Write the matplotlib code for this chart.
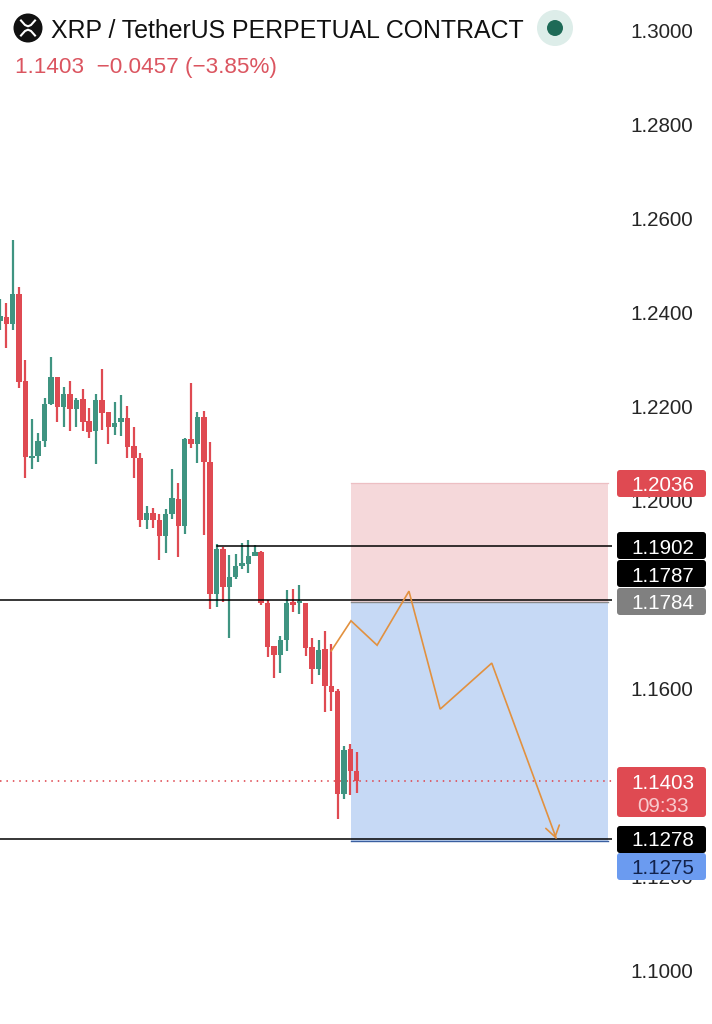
import matplotlib
matplotlib.use("Agg")
import matplotlib.pyplot as plt
from matplotlib.patches import FancyBboxPatch, Rectangle, Circle
from matplotlib.lines import Line2D
from matplotlib.transforms import IdentityTransform
import numpy as np

plt.rcParams['font.family'] = ['Liberation Sans', 'DejaVu Sans']

# OHLC candles (body top / body bottom kept through open & close)
opens = [1.2381,1.2389,1.2374,1.2438,1.2253,1.2089,1.2094,1.2125,1.2204,1.2262,
         1.2198,1.2225,1.2194,1.2215,1.2168,1.2147,1.2213,1.2187,1.2155,1.2166,
         1.2174,1.2115,1.2089,1.1957,1.1972,1.1957,1.1923,1.1970,1.2002,1.1945,
         1.2130,1.2119,1.2177,1.2081,1.1800,1.1896,1.1815,1.1836,1.1860,1.1864,
         1.1881,1.1889,1.1781,1.1689,1.1670,1.1702,1.1783,1.1781,1.1781,1.1687,
         1.1640,1.1683,1.1604,1.1594,1.1374,1.1470,1.1423]
closes = [1.2391,1.2374,1.2438,1.2251,1.2091,1.2094,1.2125,1.2204,1.2262,1.2198,
          1.2225,1.2194,1.2213,1.2166,1.2145,1.2213,1.2185,1.2155,1.2164,1.2174,
          1.2113,1.2089,1.1957,1.1972,1.1957,1.1923,1.1970,1.2004,1.1945,1.2130,
          1.2119,1.2177,1.2081,1.1800,1.1896,1.1815,1.1836,1.1860,1.1866,1.1881,
          1.1889,1.1781,1.1687,1.1670,1.1702,1.1781,1.1777,1.1783,1.1685,1.1640,
          1.1681,1.1604,1.1592,1.1374,1.1468,1.1423,1.1402]
highs = [1.2428,1.2419,1.2553,1.2453,1.2298,1.2172,1.2142,1.2217,1.2304,1.2262,
         1.2240,1.2253,1.2217,1.2236,1.2196,1.2225,1.2279,1.2187,1.2208,1.2223,
         1.2200,1.2155,1.2100,1.1987,1.1983,1.1970,1.1981,1.2066,1.2036,1.2132,
         1.2249,1.2187,1.2189,1.2123,1.1906,1.1900,1.1883,1.1885,1.1908,1.1915,
         1.1904,1.1891,1.1787,1.1689,1.1711,1.1809,1.1811,1.1819,1.1781,1.1706,
         1.1702,1.1721,1.1694,1.1598,1.1477,1.1481,1.1464]
lows = [1.2362,1.2323,1.2362,1.2238,1.2047,1.2066,1.2081,1.2113,1.2202,1.2166,
        1.2155,1.2147,1.2155,1.2147,1.2132,1.2077,1.2149,1.2119,1.2138,1.2136,
        1.2089,1.2047,1.1943,1.1938,1.1940,1.1872,1.1887,1.1960,1.1879,1.1928,
        1.2111,1.2079,1.1926,1.1768,1.1772,1.1783,1.1706,1.1832,1.1853,1.1845,
        1.1881,1.1777,1.1666,1.1621,1.1632,1.1679,1.1762,1.1757,1.1668,1.1609,
        1.1628,1.1549,1.1551,1.1321,1.1364,1.1372,1.1377]

# Axis labels
tick_values = [1.3000,1.2800,1.2600,1.2400,1.2200,1.2000,1.1800,1.1600,1.1400,1.1200,1.1000]

# Drawing levels and forecast path
line_upper = 1.1902
line_mid = 1.1787
line_lower = 1.1278
last_price = 1.1403
box_top = 1.2036
box_entry = 1.1784
box_bottom = 1.1275
path_idx = [52.0,55.1,59.2,64.2,69.1,77.2,87.3]
path_price = [1.1679,1.1743,1.1691,1.1806,1.1555,1.1653,1.1281]

RED = '#DF4A52'; GREEN = '#3F9481'
PX_PER_BAR = 6.37; PX_PER_UNIT = 4700.0
def y2p(y): return 1.3 - (y - 30) / PX_PER_UNIT
def x2i(x): return x / PX_PER_BAR

fig = plt.figure(figsize=(7.12, 10.24), dpi=100, facecolor='white')
ax = fig.add_axes([0, 0, 612/712, 1])
ax.set_xlim(0, x2i(612)); ax.set_ylim(y2p(1024), y2p(0))
for s in ax.spines.values(): s.set_visible(False)
ax.set_xticks([])
ax.yaxis.tick_right()
ax.set_yticks(tick_values)
ax.set_yticklabels([f'{v:.4f}' for v in tick_values], fontsize=14.9, color='#262626')
ax.tick_params(axis='y', length=0, pad=13.2)

# position tool
ax.add_patch(Rectangle((x2i(351), box_entry), x2i(608-351), box_top-box_entry, fc='#F5D8DA', ec='none', zorder=1))
ax.add_patch(Rectangle((x2i(351), box_bottom), x2i(608-351), box_entry-box_bottom, fc='#C6D9F5', ec='none', zorder=1))
ax.plot([x2i(351), x2i(608)], [box_top, box_top], color='#EDBFC3', lw=0.9, zorder=1.2)
ax.plot([x2i(351), x2i(608)], [box_entry, box_entry], color='#8A8A8A', lw=1.0, zorder=1.2)
ax.plot([x2i(351), x2i(608)], [box_bottom, box_bottom], color='#3A5FA0', lw=1.0, zorder=1.2)

# horizontal lines
ax.plot([x2i(217), x2i(612)], [line_upper]*2, color='black', lw=1.1, zorder=4)
ax.axhline(line_mid, color='black', lw=1.1, zorder=4)
ax.axhline(line_lower, color='black', lw=1.1, zorder=4)
ax.axhline(last_price, color=RED, lw=1.2, ls=(0, (0.9, 2.95)), zorder=1.5)

# candles
x = np.arange(len(opens))
o, c, h, l = map(np.array, (opens, closes, highs, lows))
cols = [GREEN if a > b else RED for a, b in zip(c, o)]
ax.vlines(x, l, h, colors=cols, lw=1.6, zorder=3)
ax.bar(x, np.maximum(np.abs(c-o), 0.0005), bottom=np.minimum(o, c), width=0.86, color=cols, zorder=3.2, linewidth=0)

# forecast
ax.plot(path_idx, path_price, color='#E2913F', lw=1.2, zorder=5, solid_joinstyle='miter')
ax.annotate('', xy=(path_idx[-1], y2p(841)), xytext=(path_idx[-1]-0.35, y2p(832)),
            arrowprops=dict(arrowstyle='->,head_length=0.75,head_width=0.5', color='#E2913F', lw=1.2), zorder=5)

# price tags
def tag(y_top, y_bot, fc):
    ax.add_patch(FancyBboxPatch((x2i(617), y2p(y_bot)), x2i(89), y2p(y_top)-y2p(y_bot),
        boxstyle=f'round,pad=0,rounding_size={x2i(3)}', mutation_aspect=PX_PER_BAR/PX_PER_UNIT,
        fc=fc, ec='none', clip_on=False, zorder=6))
def tag_text(y, s, col='white'):
    ax.text(x2i(663), y2p(y), s, color=col, fontsize=14.9, ha='center', va='center_baseline', clip_on=False, zorder=7)

tag(470, 497, RED);        tag_text(483, '1.2036')
tag(532, 559, 'black');    tag_text(546, '1.1902')
tag(560, 587, 'black');    tag_text(574, '1.1787')
tag(588, 615, '#808080');  tag_text(601, '1.1784')
tag(767, 817, RED);        tag_text(781, '1.1403'); tag_text(804, '09:33', '#F8C9CC')
tag(826, 853, 'black');    tag_text(839, '1.1278')
tag(853, 880, '#6B9BF0');  tag_text(867, '1.1275', '#12234D')

# header
def fx(px): return px / 712
def fy(py): return 1 - py / 1024
fig.text(fx(51), fy(28), 'XRP / TetherUS PERPETUAL CONTRACT', fontsize=17.9, color='#111111', va='center_baseline', ha='left')
fig.text(fx(15), fy(65), '1.1403  \u22120.0457 (\u22123.85%)', fontsize=16.2, color='#DB5560', va='center_baseline', ha='left')

def circle(cx, cy, r, col):
    fig.add_artist(Circle((cx, 1024-cy), r, transform=IdentityTransform(), fc=col, ec='none'))
circle(28, 28, 14.5, '#111111')
for pts in ([(21,20.5),(25,25),(28,26.3),(31,25),(35,20.5)], [(21,35.5),(25,31),(28,29.7),(31,31),(35,35.5)]):
    fig.add_artist(Line2D([fx(p[0]) for p in pts], [fy(p[1]) for p in pts], transform=fig.transFigure, color='white', lw=1.5))
circle(555, 28, 18, '#DDEDE9')
circle(555, 28, 8, '#1E6A57')

fig.savefig('out.png', dpi=100, facecolor='white')
